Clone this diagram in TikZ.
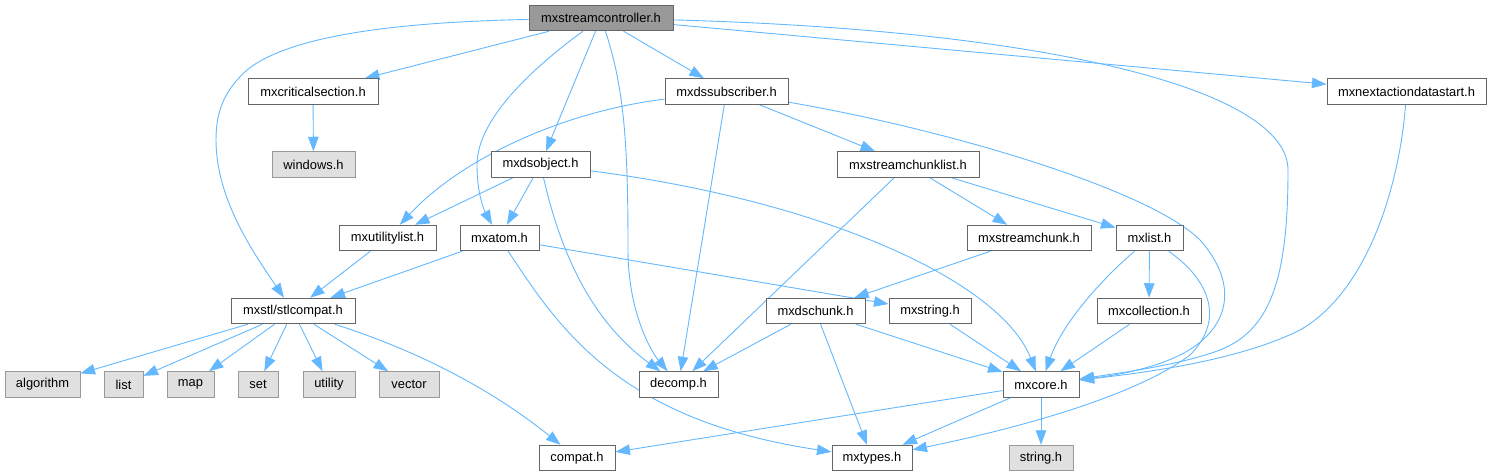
\documentclass[tikz,border=0pt]{standalone}
\usepackage{fontspec}
\setmainfont{Liberation Sans}
\usetikzlibrary{arrows.meta}
\definecolor{edgeblue}{HTML}{63B8FF}
\definecolor{bordergray}{HTML}{666666}
\definecolor{extborder}{HTML}{999999}
\definecolor{extfill}{HTML}{E0E0E0}
\definecolor{rootfill}{HTML}{999999}
\pgfdeclarelayer{background}
\pgfsetlayers{background,main}
\begin{document}
\begin{tikzpicture}[x=1pt,y=-1pt,
  file/.style={draw=bordergray, line width=1pt, fill=white, inner sep=0pt, minimum height=25.5pt, font=\fontsize{12.9}{15}\selectfont, text=black},
  ext/.style={file, draw=extborder, fill=extfill},
  rootnode/.style={file, fill=rootfill},
  dep/.style={draw=edgeblue, line width=0.9pt, -{Triangle[length=14.5pt,width=10.5pt]}}
]
\useasboundingbox (0,0) rectangle (1491,476);

\node[rootnode, minimum width=144pt] (root) at (601,18) {mxstreamcontroller.h};
\node[file, minimum width=130pt] (crit) at (313,91.5) {mxcriticalsection.h};
\node[ext, minimum width=83pt] (win) at (313.5,164.5) {windows.h};
\node[file, minimum width=97pt] (util) at (387.5,238) {mxutilitylist.h};
\node[file, minimum width=79pt] (atom) at (499.5,238) {mxatom.h};
\node[file, minimum width=124pt] (stl) at (293,311) {mxstl/stlcompat.h};
\node[ext, minimum width=75pt] (alg) at (42.5,384.5) {algorithm};
\node[ext, minimum width=39pt] (lst) at (123.5,384.5) {list};
\node[ext, minimum width=47pt] (map) at (190.5,384.5) {map};
\node[ext, minimum width=40pt] (set) at (258,384.5) {set};
\node[ext, minimum width=52pt] (utl) at (329,384.5) {utility};
\node[ext, minimum width=60pt] (vec) at (409,384.5) {vector};
\node[file, minimum width=123pt] (sub) at (726.5,91.5) {mxdssubscriber.h};
\node[file, minimum width=99pt] (obj) at (540.5,164.5) {mxdsobject.h};
\node[file, minimum width=142pt] (scl) at (908,164.5) {mxstreamchunklist.h};
\node[file, minimum width=159pt] (nxt) at (1406.5,91.5) {mxnextactiondatastart.h};
\node[file, minimum width=124pt] (sc) at (1029,238) {mxstreamchunk.h};
\node[file, minimum width=67pt] (mxl) at (1149.5,238) {mxlist.h};
\node[file, minimum width=104pt] (coll) at (1149,311) {mxcollection.h};
\node[file, minimum width=76pt] (core) at (1041,384.5) {mxcore.h};
\node[ext, minimum width=64pt] (strh) at (1041,458) {string.h};
\node[file, minimum width=99pt] (dsc) at (815.5,311) {mxdschunk.h};
\node[file, minimum width=82pt] (mstr) at (930,311) {mxstring.h};
\node[file, minimum width=79pt] (dec) at (678.5,384.5) {decomp.h};
\node[file, minimum width=76pt] (compat) at (577,458) {compat.h};
\node[file, minimum width=80pt] (types) at (872,458) {mxtypes.h};

\begin{pgfonlayer}{background}
% from root
\draw[dep] (root) .. controls (400,22) and (290,35) .. (247,70)
  .. controls (225,90) and (216,110) .. (216,140)
  .. controls (216,200) and (255,255) .. (stl);
\draw[dep] (root) -- (crit);
\draw[dep] (root) .. controls (530,70) and (477,120) .. (477,165)
  .. controls (477,195) and (485,212) .. (atom);
\draw[dep] (root) -- (obj);
\draw[dep] (root) .. controls (625,90) and (628,150) .. (628,250)
  .. controls (628,310) and (650,350) .. (dec);
\draw[dep] (root) -- (sub);
\draw[dep] (root) .. controls (1050,30) and (1288,90) .. (1288,170)
  .. controls (1288,280) and (1270,330) .. (1220,350)
  .. controls (1180,365) and (1120,373) .. (core);
\draw[dep] (root) -- (nxt);
% others
\draw[dep] (crit) -- (win);
\draw[dep] (sub) .. controls (560,112) and (460,160) .. (util);
\draw[dep] (sub) -- (dec);
\draw[dep] (sub) -- (scl);
\draw[dep] (sub) .. controls (950,130) and (1150,190) .. (1200,240)
  .. controls (1240,285) and (1230,330) .. (1180,355)
  .. controls (1150,370) and (1110,376) .. (core);
\draw[dep] (obj) -- (util);
\draw[dep] (obj) -- (atom);
\draw[dep] (obj) .. controls (560,250) and (590,320) .. (dec);
\draw[dep] (obj) .. controls (820,200) and (1000,280) .. (core);
\draw[dep] (scl) -- (dec);
\draw[dep] (scl) -- (sc);
\draw[dep] (scl) -- (mxl);
\draw[dep] (util) -- (stl);
\draw[dep] (atom) -- (stl);
\draw[dep] (atom) -- (mstr);
\draw[dep] (atom) .. controls (560,330) and (620,420) .. (types);
\draw[dep] (sc) -- (dsc);
\draw[dep] (mxl) .. controls (1090,290) and (1060,330) .. (core);
\draw[dep] (mxl) -- (coll);
\draw[dep] (mxl) .. controls (1210,280) and (1225,320) .. (1190,355)
  .. controls (1130,400) and (1000,432) .. (types);
\draw[dep] (dsc) -- (dec);
\draw[dep] (dsc) -- (types);
\draw[dep] (dsc) -- (core);
\draw[dep] (mstr) -- (core);
\draw[dep] (coll) -- (core);
\draw[dep] (nxt) .. controls (1400,180) and (1370,290) .. (1300,330)
  .. controls (1240,360) and (1150,372) .. (core);
\draw[dep] (stl) -- (alg);
\draw[dep] (stl) -- (lst);
\draw[dep] (stl) -- (map);
\draw[dep] (stl) -- (set);
\draw[dep] (stl) -- (utl);
\draw[dep] (stl) -- (vec);
\draw[dep] (stl) .. controls (400,345) and (480,380) .. (compat);
\draw[dep] (core) -- (compat);
\draw[dep] (core) -- (types);
\draw[dep] (core) -- (strh);
\end{pgfonlayer}
\end{tikzpicture}
\end{document}
